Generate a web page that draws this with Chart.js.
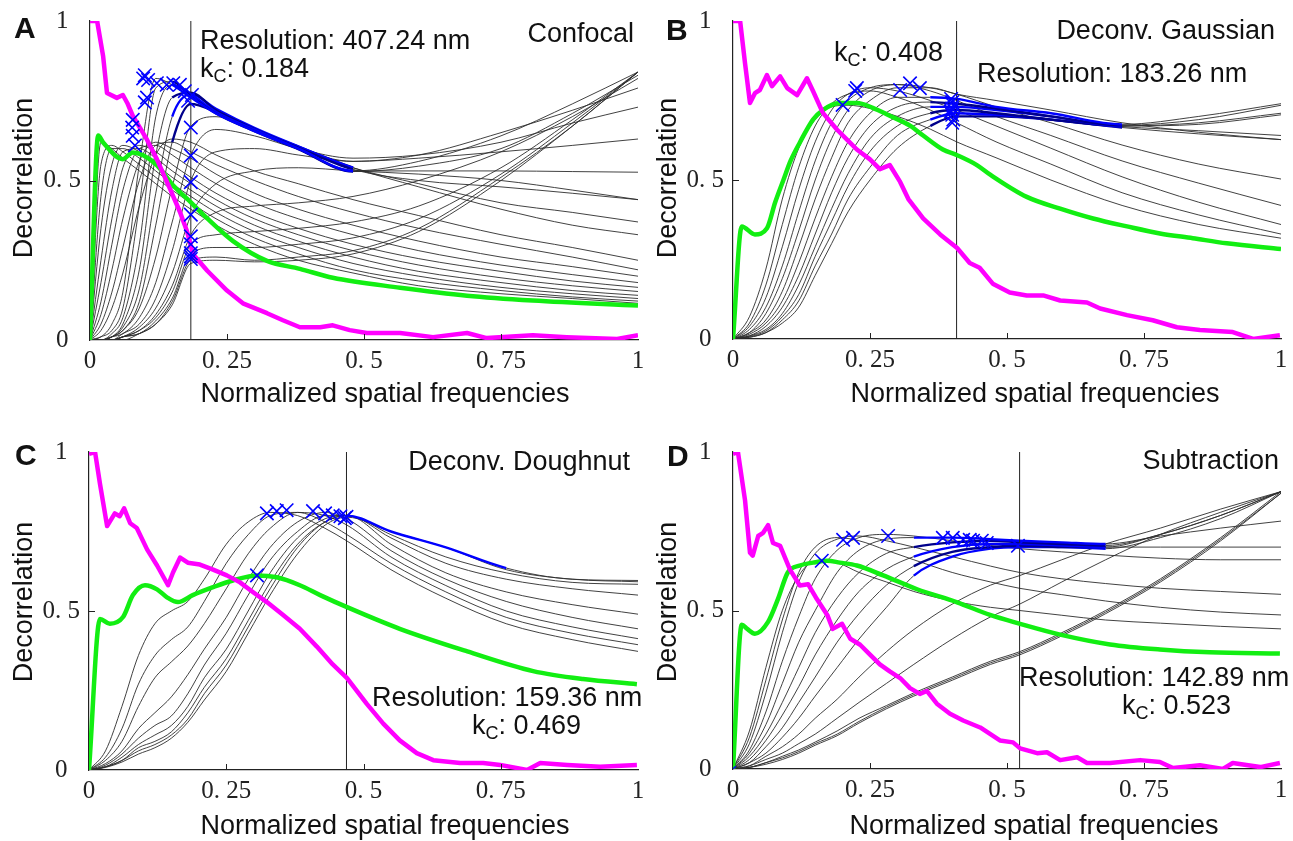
<!DOCTYPE html>
<html>
<head>
<meta charset="utf-8">
<script src="https://cdn.jsdelivr.net/npm/chart.js@4.4.0/dist/chart.umd.min.js"></script>
<style>
  body { margin:0; background:#fff; width:1293px; height:841px; position:relative; overflow:hidden;
         font-family:"Liberation Sans", Arial, sans-serif; color:#111; }
  canvas { position:absolute; }
  .t { position:absolute; font-size:27px; line-height:1; white-space:nowrap; }
  .lt { position:absolute; font-size:30px; font-weight:bold; line-height:1; }
  .sub { font-size:18px; position:relative; top:5px; }
  .yl { position:absolute; font-size:27px; line-height:1; white-space:nowrap; transform:translate(-50%,-50%) rotate(-90deg); }
  .xl { position:absolute; font-size:27px; line-height:1; white-space:nowrap; transform:translateX(-50%); }
</style>
</head>
<body>
<canvas id="cA"></canvas>
<canvas id="cB"></canvas>
<canvas id="cC"></canvas>
<canvas id="cD"></canvas>

<div class="lt" style="left:14px;top:13px">A</div>
<div class="lt" style="left:666px;top:15px">B</div>
<div class="lt" style="left:15px;top:440px">C</div>
<div class="lt" style="left:667px;top:441px">D</div>

<div class="t" style="left:200px;top:27px">Resolution: 407.24 nm</div>
<div class="t" style="left:200px;top:55px">k<span class="sub">C</span>: 0.184</div>
<div class="t" style="right:659px;top:20px">Confocal</div>

<div class="t" style="left:834px;top:39px">k<span class="sub">C</span>: 0.408</div>
<div class="t" style="right:18px;top:17px">Deconv. Gaussian</div>
<div class="t" style="left:977px;top:60px">Resolution: 183.26 nm</div>

<div class="t" style="right:663px;top:448px">Deconv. Doughnut</div>
<div class="t" style="left:372px;top:684px">Resolution: 159.36 nm</div>
<div class="t" style="left:472px;top:712px">k<span class="sub">C</span>: 0.469</div>

<div class="t" style="right:14px;top:447px">Subtraction</div>
<div class="t" style="left:1019px;top:664px">Resolution: 142.89 nm</div>
<div class="t" style="left:1122px;top:692px">k<span class="sub">C</span>: 0.523</div>

<div class="yl" style="left:23px;top:178px">Decorrelation</div>
<div class="yl" style="left:667px;top:178px">Decorrelation</div>
<div class="yl" style="left:23px;top:602px">Decorrelation</div>
<div class="yl" style="left:667px;top:602px">Decorrelation</div>
<div class="xl" style="left:385px;top:380px">Normalized spatial frequencies</div>
<div class="xl" style="left:1035px;top:380px">Normalized spatial frequencies</div>
<div class="xl" style="left:385px;top:812px">Normalized spatial frequencies</div>
<div class="xl" style="left:1034px;top:812px">Normalized spatial frequencies</div>

<script>
// tick labels (same for all four panels)
const xTickVals = [0, 0.25, 0.5, 0.75, 1];
const xTickText = ['0', '0. 25', '0. 5', '0. 75', '1'];
const yTickVals = [0, 0.5, 1];
const yTickText = ['0', '0. 5', '1'];

// ---------- A : Confocal ----------
const kcA = 0.184;
const gridA = [0, .02, .04, .06, .09, .12, .15, .184, .23, .3, .38, .48, .6, .75, .88, 1];
const grayA = [
  [0, .62, .60, .57, .53, .49, .45, .41, .36, .30, .25, .21, .17, .145, .13, .115],
  [0, .55, .61, .59, .55, .51, .47, .43, .38, .32, .27, .22, .185, .155, .135, .122],
  [0, .45, .60, .60, .57, .53, .49, .45, .40, .34, .29, .24, .20, .165, .145, .13],
  [0, .35, .55, .61, .59, .55, .51, .47, .42, .36, .31, .26, .215, .18, .155, .14],
  [0, .25, .47, .59, .60, .57, .53, .49, .44, .38, .33, .28, .235, .195, .17, .152],
  [0, .18, .38, .54, .61, .59, .55, .51, .46, .40, .35, .30, .255, .215, .185, .165],
  [0, .12, .30, .47, .60, .61, .58, .54, .49, .43, .38, .33, .28, .235, .205, .18],
  [0, .08, .22, .38, .56, .62, .60, .57, .52, .46, .41, .36, .31, .26, .23, .20],
  [0, .05, .15, .29, .50, .61, .62, .59, .55, .50, .45, .40, .35, .30, .26, .22],
  [0, .03, .10, .21, .42, .58, .63, .62, .58, .53, .49, .44, .39, .33, .29, .25],
  [0, .01, .05, .15, .55, .82, .80, .76, .71, .655, .60, .53, .56, .64, .74, .84],
  [0, .01, .03, .10, .42, .79, .81, .765, .71, .655, .598, .528, .545, .60, .71, .83],
  [0, 0, .02, .07, .30, .70, .80, .77, .715, .66, .60, .53, .53, .53, .528, .526],
  [0, 0, .01, .05, .22, .58, .76, .775, .72, .662, .603, .535, .50, .48, .46, .44],
  [0, 0, .01, .04, .16, .46, .70, .77, .725, .665, .607, .54, .49, .43, .40, .37],
  [0, 0, .01, .03, .12, .36, .62, .74, .715, .66, .606, .54, .48, .41, .36, .33],
  [0, 0, .01, .03, .10, .26, .48, .67, .70, .66, .60, .56, .58, .65, .72, .79],
  [0, 0, .01, .02, .07, .18, .37, .58, .66, .64, .60, .57, .58, .62, .68, .73],
  [0, 0, 0, .02, .05, .13, .28, .50, .59, .60, .58, .56, .57, .59, .61, .63],
  [0, 0, 0, .01, .04, .10, .21, .39, .49, .53, .54, .53, .52, .50, .47, .44],
  [0, 0, 0, .01, .03, .08, .17, .33, .40, .42, .43, .45, .50, .59, .70, .82],
  [0, 0, 0, .01, .03, .07, .15, .30, .33, .34, .35, .37, .42, .54, .69, .84],
  [0, 0, 0, .01, .02, .06, .13, .27, .29, .29, .30, .32, .38, .52, .68, .84],
  [0, 0, 0, .01, .02, .05, .12, .25, .26, .25, .26, .28, .35, .51, .67, .84],
  [0, 0, 0, 0, .02, .05, .11, .24, .25, .245, .25, .27, .34, .50, .67, .84]
];
const blueIdxA = [10, 11, 12, 13, 14, 15];
const blueSpanA = [0.15, 0.48];
const magentaA = [[0,1],[.013,1],[.024,.889],[.031,.774],[.049,.759],[.06,.768],[.068,.743],[.078,.703],[.104,.628],[.122,.567],[.146,.474],[.164,.402],[.177,.341],[.188,.269],[.214,.217],[.25,.155],[.279,.115],[.323,.084],[.352,.062],[.383,.04],[.42,.04],[.443,.046],[.474,.031],[.505,.022],[.566,.022],[.626,.009],[.688,.022],[.724,.006],[.808,.015],[.87,.009],[.962,.003],[1,.015]];
const greenA = [[0,0],[.015,.641],[.024,.619],[.06,.567],[.078,.588],[.097,.579],[.122,.548],[.151,.486],[.177,.443],[.214,.381],[.261,.31],[.323,.248],[.383,.223],[.443,.195],[.566,.164],[.688,.139],[.808,.124],[1,.108]];
const crossA = [[.097,.82],[.106,.815],[.1,.83],[.122,.805],[.14,.80],[.152,.805],[.164,.80],[.173,.78],[.186,.768],[.179,.75],[.104,.76],[.1,.745],[.078,.69],[.077,.666],[.078,.64],[.082,.61],[.184,.666],[.184,.578],[.184,.495],[.184,.393],[.184,.325],[.184,.30],[.184,.272],[.184,.262],[.184,.254]];

// ---------- B : Deconv. Gaussian ----------
const kcB = 0.408;
const gridB = [0, .03, .06, .09, .12, .15, .18, .21, .25, .3, .36, .408, .48, .58, .71, .85, 1];
const grayB = [
  [0, .07, .22, .44, .60, .69, .73, .735, .725, .70, .66, .62, .57, .50, .42, .36, .317],
  [0, .05, .17, .36, .54, .67, .74, .77, .78, .76, .72, .68, .62, .55, .46, .39, .33],
  [0, .04, .13, .29, .47, .62, .72, .77, .79, .78, .75, .72, .67, .60, .51, .43, .36],
  [0, .03, .10, .23, .40, .56, .68, .75, .79, .80, .78, .75, .70, .64, .56, .49, .42],
  [0, .02, .08, .19, .34, .50, .63, .72, .78, .80, .79, .77, .73, .68, .61, .55, .503],
  [0, .02, .06, .15, .29, .44, .57, .68, .75, .79, .79, .77, .75, .72, .68, .65, .627],
  [0, .015, .05, .12, .24, .38, .51, .62, .71, .76, .76, .755, .73, .71, .675, .70, .74],
  [0, .01, .04, .10, .20, .33, .46, .57, .67, .73, .745, .74, .725, .70, .672, .69, .735],
  [0, .01, .03, .08, .17, .29, .41, .52, .63, .70, .73, .73, .72, .70, .67, .68, .71],
  [0, .008, .025, .07, .14, .26, .37, .48, .59, .67, .71, .72, .71, .69, .67, .675, .705],
  [0, .006, .02, .06, .12, .23, .33, .44, .54, .64, .69, .71, .705, .69, .668, .655, .64],
  [0, .005, .02, .05, .10, .20, .30, .40, .50, .60, .67, .70, .70, .69, .665, .645, .627]
];
const blueIdxB = [6, 7, 8, 9, 10, 11];
const blueSpanB = [0.36, 0.71];
const magentaB = [[0,1],[.013,1],[.022,.866],[.031,.742],[.04,.773],[.049,.783],[.062,.83],[.071,.795],[.086,.826],[.099,.789],[.117,.767],[.135,.82],[.146,.78],[.164,.711],[.19,.658],[.208,.627],[.226,.596],[.25,.565],[.268,.534],[.286,.547],[.305,.494],[.32,.44],[.347,.379],[.378,.329],[.409,.286],[.432,.239],[.45,.224],[.474,.174],[.505,.146],[.536,.137],[.566,.137],[.597,.121],[.646,.115],[.67,.096],[.719,.075],[.766,.059],[.81,.037],[.852,.028],[.912,.022],[.949,0],[.998,.012]];
const greenB = [[0,0],[.016,.354],[.04,.329],[.062,.348],[.077,.43],[.092,.5],[.105,.56],[.122,.618],[.146,.69],[.164,.72],[.195,.742],[.226,.742],[.255,.727],[.286,.702],[.323,.671],[.347,.64],[.383,.596],[.409,.578],[.445,.547],[.47,.516],[.536,.447],[.597,.41],[.657,.379],[.719,.354],[.779,.332],[.839,.317],[.901,.301],[1,.283]];
const crossB = [[.2,.736],[.223,.78],[.226,.789],[.305,.783],[.323,.804],[.341,.789],[.398,.755],[.40,.745],[.402,.735],[.40,.725],[.398,.715],[.40,.705],[.402,.69],[.40,.68]];

// ---------- C : Deconv. Doughnut ----------
const kcC = 0.469;
const gridC = [0, .03, .06, .09, .12, .15, .18, .21, .25, .29, .33, .38, .43, .47, .55, .65, .76, .88, 1];
const grayC = [
  [0, .06, .20, .36, .46, .50, .53, .60, .71, .78, .81, .80, .76, .72, .63, .54, .46, .41, .373],
  [0, .04, .13, .27, .36, .41, .45, .53, .65, .74, .80, .81, .78, .74, .65, .56, .48, .43, .394],
  [0, .03, .09, .20, .29, .34, .39, .46, .57, .68, .76, .81, .80, .77, .67, .58, .50, .45, .413],
  [0, .02, .06, .13, .18, .23, .30, .38, .48, .60, .70, .78, .81, .79, .69, .60, .53, .48, .444],
  [0, .015, .05, .10, .14, .17, .24, .33, .43, .55, .66, .75, .80, .80, .71, .62, .56, .52, .49],
  [0, .01, .04, .08, .11, .14, .20, .29, .38, .50, .62, .73, .79, .80, .73, .65, .60, .57, .55],
  [0, .01, .03, .07, .09, .12, .18, .26, .35, .47, .59, .71, .78, .80, .74, .67, .62, .59, .584],
  [0, .01, .03, .06, .08, .11, .16, .24, .33, .45, .57, .70, .78, .80, .75, .70, .635, .60, .596],
  [0, .008, .025, .05, .07, .10, .15, .22, .31, .43, .55, .68, .77, .795, .75, .70, .63, .60, .592]
];
const blueIdxC = [7];
const blueSpanC = [0.47, 0.76];
const magentaC = [[0,.994],[.011,1],[.02,.9],[.033,.767],[.047,.807],[.056,.798],[.064,.823],[.075,.776],[.087,.761],[.106,.693],[.124,.643],[.144,.581],[.153,.621],[.166,.668],[.18,.652],[.202,.646],[.226,.63],[.251,.612],[.275,.59],[.299,.559],[.324,.528],[.353,.488],[.384,.444],[.415,.388],[.444,.332],[.47,.289],[.506,.208],[.536,.146],[.566,.093],[.597,.053],[.627,.031],[.676,.022],[.718,.022],[.749,.016],[.798,0],[.822,.022],[.871,.016],[.931,.01],[.998,.016]];
const greenC = [[0,0],[.02,.475],[.038,.46],[.062,.481],[.08,.55],[.102,.581],[.124,.568],[.142,.543],[.162,.528],[.189,.55],[.226,.575],[.262,.596],[.306,.612],[.342,.606],[.384,.581],[.421,.55],[.47,.512],[.566,.444],[.689,.373],[.809,.311],[.9,.286],[.998,.27]];
const crossC = [[.306,.612],[.324,.807],[.342,.814],[.36,.817],[.408,.814],[.43,.807],[.444,.801],[.458,.798],[.466,.792],[.469,.796]];

// ---------- D : Subtraction ----------
const kcD = 0.523;
const gridD = [0, .03, .06, .09, .12, .15, .19, .23, .28, .33, .4, .47, .523, .6, .68, .78, .89, 1];
const grayD = [
  [0, .12, .32, .50, .61, .655, .65, .62, .59, .56, .53, .51, .50, .485, .47, .46, .45, .442],
  [0, .10, .28, .47, .62, .70, .73, .72, .69, .66, .62, .59, .57, .55, .53, .51, .495, .486],
  [0, .08, .24, .43, .59, .68, .725, .735, .72, .70, .67, .64, .62, .60, .585, .57, .56, .551],
  [0, .06, .18, .34, .48, .60, .69, .73, .74, .735, .72, .705, .695, .685, .675, .665, .66, .66],
  [0, .05, .14, .27, .40, .50, .62, .69, .725, .73, .73, .725, .72, .715, .71, .735, .76, .782],
  [0, .04, .11, .21, .32, .43, .54, .62, .68, .70, .715, .72, .715, .71, .705, .74, .80, .875],
  [0, .03, .09, .17, .26, .36, .47, .56, .63, .67, .70, .71, .71, .705, .70, .74, .80, .875],
  [0, .02, .07, .13, .21, .29, .40, .49, .58, .64, .685, .70, .705, .70, .70, .70, .70, .70],
  [0, .02, .05, .10, .16, .23, .32, .41, .51, .61, .67, .695, .70, .70, .695, .73, .79, .875],
  [0, .01, .04, .07, .11, .16, .22, .29, .37, .44, .52, .58, .61, .66, .71, .76, .82, .875],
  [0, .01, .03, .05, .08, .11, .16, .21, .27, .33, .41, .48, .52, .59, .66, .74, .81, .875],
  [0, .005, .02, .04, .06, .085, .12, .16, .20, .24, .29, .34, .37, .43, .50, .60, .73, .875],
  [0, .005, .02, .035, .055, .08, .11, .15, .195, .235, .285, .335, .365, .425, .495, .595, .725, .87],
  [0, .005, .015, .03, .05, .075, .105, .145, .19, .23, .28, .33, .36, .42, .49, .59, .72, .87]
];
const blueIdxD = [4, 5, 6, 7, 8];
const blueSpanD = [0.33, 0.68];
const magentaD = [[0,.994],[.009,1],[.022,.847],[.031,.682],[.036,.673],[.046,.735],[.055,.745],[.064,.769],[.073,.713],[.086,.704],[.104,.629],[.122,.579],[.137,.583],[.153,.536],[.172,.486],[.182,.442],[.199,.458],[.214,.411],[.232,.392],[.25,.361],[.268,.33],[.286,.308],[.305,.287],[.323,.255],[.341,.237],[.354,.246],[.372,.206],[.396,.174],[.42,.153],[.451,.131],[.487,.09],[.511,.084],[.524,.065],[.555,.05],[.573,.053],[.597,.028],[.628,.037],[.646,.019],[.688,.019],[.743,.028],[.779,.022],[.803,.003],[.852,.012],[.894,0],[.912,.019],[.962,.006],[.998,.019]];
const greenD = [[0,0],[.016,.455],[.026,.442],[.04,.427],[.064,.464],[.082,.536],[.1,.62],[.122,.642],[.146,.651],[.172,.657],[.195,.651],[.226,.642],[.274,.611],[.336,.567],[.409,.526],[.469,.486],[.524,.458],[.597,.424],[.688,.393],[.779,.377],[.87,.368],[.998,.364]];
const crossD = [[.162,.657],[.201,.723],[.219,.729],[.283,.735],[.383,.729],[.401,.729],[.42,.723],[.432,.723],[.438,.72],[.454,.72],[.463,.713],[.52,.704]];
const originD = [[0,0]];

// ---------- drawing ----------
const GRAY = 'rgba(45,45,45,0.9)';
const BLUES = ['#0000ff', '#00008b'];
const pts = arr => arr.map(p => ({x: p[0], y: p[1]}));

const inwardTicks = {
  id: 'inwardTicks',
  afterDatasetsDraw(chart) {
    const {ctx, chartArea: a, scales: {x, y}} = chart;
    ctx.save();
    ctx.strokeStyle = '#222'; ctx.lineWidth = 1;
    ctx.beginPath();
    xTickVals.slice(1, -1).forEach(v => {
      const px = Math.round(x.getPixelForValue(v)) + 0.5;
      ctx.moveTo(px, a.bottom); ctx.lineTo(px, a.bottom - 6);
    });
    yTickVals.slice(1, -1).forEach(v => {
      const py = Math.round(y.getPixelForValue(v)) + 0.5;
      ctx.moveTo(a.left, py); ctx.lineTo(a.left + 6, py);
    });
    ctx.stroke();
    ctx.restore();
  }
};

function panel(id, box, p) {
  const cv = document.getElementById(id);
  const W = box.R - box.L + 75, H = box.B - box.T + 65;
  cv.width = W; cv.height = H;
  cv.style.left = (box.L - 60) + 'px';
  cv.style.top = (box.T - 20) + 'px';

  const ds = [];
  ds.push({data: pts(p.cross), showLine: false, pointStyle: 'crossRot', pointRadius: 9.5,
           pointBorderColor: '#0000ff', pointBorderWidth: 1.6, order: 0});
  if (p.extra) ds.push({data: pts(p.extra), showLine: false, pointStyle: 'crossRot', pointRadius: 4,
           pointBorderColor: '#0000ff', pointBorderWidth: 1.4, order: 0});
  ds.push({data: pts(p.magenta), showLine: true, pointRadius: 0, borderColor: '#ff00ff',
           borderWidth: 4.5, borderJoinStyle: 'round', tension: 0, order: 1});
  ds.push({data: pts(p.green), showLine: true, pointRadius: 0, borderColor: '#12ee12',
           borderWidth: 4.5, borderJoinStyle: 'round', cubicInterpolationMode: 'monotone', order: 2});
  ds.push({data: [{x: p.kc, y: 0}, {x: p.kc, y: 1}], showLine: true, pointRadius: 0,
           borderColor: '#222', borderWidth: 1, order: 3});
  p.gray.forEach((ys, i) => {
    const bi = p.blueIdx.indexOf(i);
    const inBlue = c => bi >= 0 && c.p0.parsed.x >= p.blueSpan[0] - 1e-6 && c.p1.parsed.x <= p.blueSpan[1] + 1e-6;
    ds.push({
      data: ys.map((v, k) => ({x: p.grid[k], y: v})),
      showLine: true, pointRadius: 0, borderColor: GRAY, borderWidth: 1,
      cubicInterpolationMode: 'monotone', order: bi >= 0 ? 4 : 5,
      segment: {
        borderColor: c => inBlue(c) ? BLUES[bi % 2] : GRAY,
        borderWidth: c => inBlue(c) ? 2.4 : 1
      }
    });
  });

  const tickFont = {family: 'Liberation Serif', size: 25};
  new Chart(cv, {
    type: 'scatter',
    data: {datasets: ds},
    options: {
      responsive: false, animation: false, devicePixelRatio: 1, events: [],
      layout: {padding: {top: 20, right: 15, left: 0, bottom: 0}},
      plugins: {legend: {display: false}, tooltip: {enabled: false}},
      scales: {
        x: {
          type: 'linear', min: 0, max: 1,
          afterBuildTicks: s => { s.ticks = xTickVals.map(v => ({value: v})); },
          afterFit: s => { s.height = 45; },
          grid: {display: false, drawTicks: false},
          border: {display: true, color: '#222', width: 1.2},
          ticks: {callback: (v, i) => xTickText[i], font: tickFont, color: '#222',
                  padding: 6, maxRotation: 0, autoSkip: false}
        },
        y: {
          type: 'linear', min: 0, max: 1,
          afterBuildTicks: s => { s.ticks = yTickVals.map(v => ({value: v})); },
          afterFit: s => { s.width = 60; },
          grid: {display: false, drawTicks: false},
          border: {display: true, color: '#222', width: 1.2},
          ticks: {callback: (v, i) => yTickText[i], font: tickFont, color: '#222',
                  padding: 9, crossAlign: 'center', autoSkip: false}
        }
      }
    },
    plugins: [inwardTicks]
  });
}

panel('cA', {L: 90, R: 638, T: 17, B: 340},
  {grid: gridA, gray: grayA, blueIdx: blueIdxA, blueSpan: blueSpanA, magenta: magentaA, green: greenA, cross: crossA, kc: kcA});
panel('cB', {L: 733, R: 1281, T: 17, B: 339},
  {grid: gridB, gray: grayB, blueIdx: blueIdxB, blueSpan: blueSpanB, magenta: magentaB, green: greenB, cross: crossB, kc: kcB});
panel('cC', {L: 89, R: 638, T: 448, B: 770},
  {grid: gridC, gray: grayC, blueIdx: blueIdxC, blueSpan: blueSpanC, magenta: magentaC, green: greenC, cross: crossC, kc: kcC});
panel('cD', {L: 733, R: 1281, T: 448, B: 769},
  {grid: gridD, gray: grayD, blueIdx: blueIdxD, blueSpan: blueSpanD, magenta: magentaD, green: greenD, cross: crossD, kc: kcD, extra: originD});
</script>
</body>
</html>
